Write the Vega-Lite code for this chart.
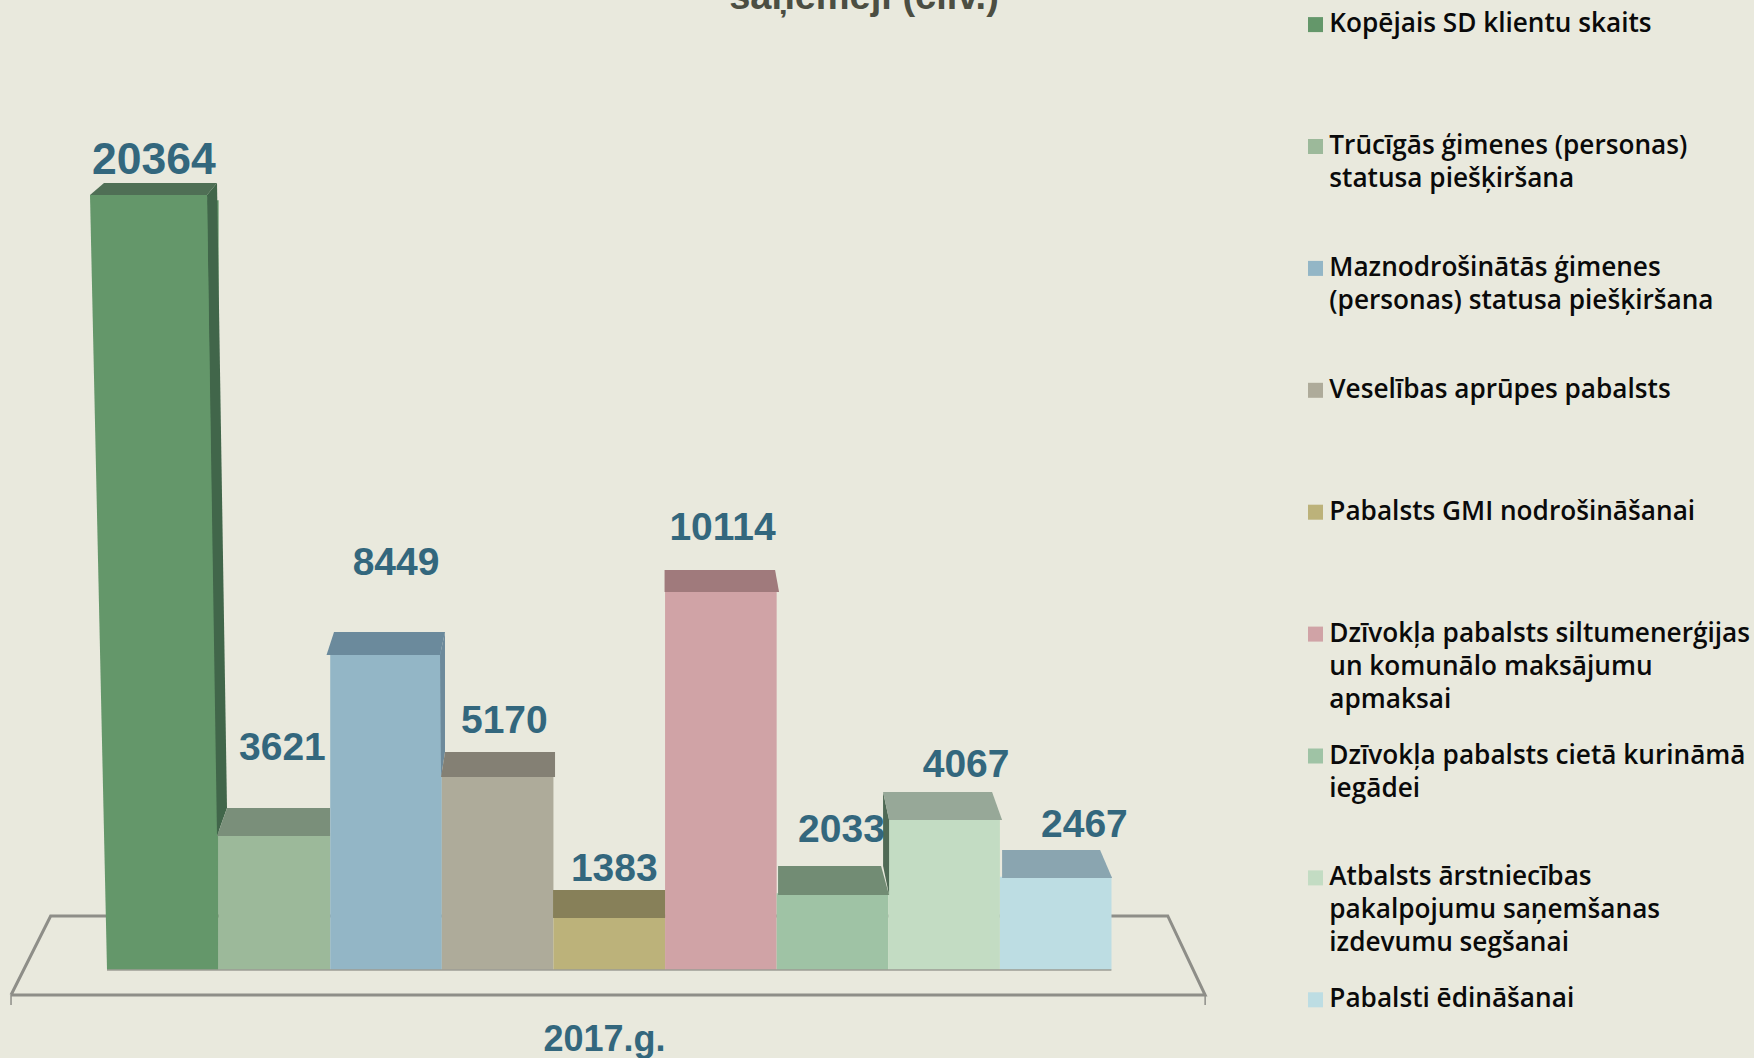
{
"$schema":"https://vega.github.io/schema/vega-lite/v6.json",
"width":1754,"height":1058,"padding":0,"autosize":{"type":"none"},
"background":"#e9e9dd",
"config":{"view":{"stroke":null}},
"title":{"text":"saņēmēji (cilv.)","anchor":"middle","frame":"group","offset":-9,"dx":-13,"dy":40,"baseline":"alphabetic","font":"Liberation Sans","fontWeight":"bold","fontSize":38,"color":"#4c4e42"},
"datasets":{
"bars":[
{"id":"a","category":"Kopējais SD klientu skaits","value":20364},
{"id":"b","category":"Trūcīgās ģimenes (personas) statusa piešķiršana","value":3621},
{"id":"c","category":"Maznodrošinātās ģimenes (personas) statusa piešķiršana","value":8449},
{"id":"d","category":"Veselības aprūpes pabalsts","value":5170},
{"id":"e","category":"Pabalsts GMI nodrošināšanai","value":1383},
{"id":"f","category":"Dzīvokļa pabalsts siltumenerģijas un komunālo maksājumu apmaksai","value":10114},
{"id":"g","category":"Dzīvokļa pabalsts cietā kurināmā iegādei","value":2033},
{"id":"h","category":"Atbalsts ārstniecības pakalpojumu saņemšanas izdevumu segšanai","value":4067},
{"id":"i","category":"Pabalsti ēdināšanai","value":2467}],
"floor":[{"step":0,"depth":-0.86,"level":-661},{"step":1,"depth":-0.505,"level":1429},{"step":2,"depth":9.505,"level":1429},{"step":3,"depth":9.84,"level":-661},{"step":4,"depth":-0.86,"level":-661}],
"ticks":[{"depth":-0.86,"level":-661,"level2":-926},{"depth":9.84,"level":-661,"level2":-926}],
"base":[{"step":0,"depth":0,"level":0},{"step":1,"depth":9,"level":0}]
},
"resolve":{"scale":{"x":"independent"}},
"layer":[
{"data":{"name":"floor"},
 "mark":{"type":"line","color":"#8e8e88","strokeWidth":3},
 "encoding":{
  "x":{"field":"depth","type":"quantitative","axis":null,"scale":{"domain":[-0.9588,14.7581],"nice":false,"zero":false}},
  "y":{"field":"level","type":"quantitative","axis":null,"scale":{"domain":[-2328,25661],"nice":false,"zero":false}},
  "order":{"field":"step"}}},
{"data":{"name":"ticks"},
 "mark":{"type":"rule","color":"#8e8e88","strokeWidth":1.5},
 "encoding":{
  "x":{"field":"depth","type":"quantitative","axis":null,"scale":{"domain":[-0.9588,14.7581],"nice":false,"zero":false}},
  "y":{"field":"level","type":"quantitative","axis":null,"scale":{"domain":[-2328,25661],"nice":false,"zero":false}},
  "y2":{"field":"level2"}}},
{"data":{"name":"bars"},
 "encoding":{
  "x":{"field":"category","type":"nominal","sort":null,
    "scale":{"range":[107,1111.5],"paddingInner":0,"paddingOuter":0},
    "axis":{"title":"2017.g.","domain":false,"ticks":false,"labels":false,"grid":false,"titleFont":"Liberation Sans","titleFontWeight":"bold","titleFontSize":36,"titleColor":"#33677d","titleX":604,"titleY":-8,"titleBaseline":"alphabetic","titleAlign":"center","titleAnchor":"start"}},
  "y":{"field":"value","type":"quantitative","axis":null,"scale":{"domain":[-2328,25661],"nice":false,"zero":false}}
 },
 "layer":[
  {"mark":{"type":"bar","stroke":null},
   "encoding":{"color":{"field":"category","type":"nominal",
     "scale":{"domain":["Kopējais SD klientu skaits","Trūcīgās ģimenes (personas) statusa piešķiršana","Maznodrošinātās ģimenes (personas) statusa piešķiršana","Veselības aprūpes pabalsts","Pabalsts GMI nodrošināšanai","Dzīvokļa pabalsts siltumenerģijas un komunālo maksājumu apmaksai","Dzīvokļa pabalsts cietā kurināmā iegādei","Atbalsts ārstniecības pakalpojumu saņemšanas izdevumu segšanai","Pabalsti ēdināšanai"],
       "range":["#64976a","#9cb99a","#93b6c6","#aeab9a","#bcb27a","#d0a3a6","#9fc3a5","#c3dcc3","#bddde3"]},
     "legend":{"orient":"none","legendX":1302.4,"legendY":-2,"title":null,"padding":0,"columns":1,"direction":"vertical","gridAlign":"all","rowPadding":15.9,"symbolType":"M-1,0.8H1V2.8H-1Z","symbolSize":225,"symbolStrokeWidth":0,"labelOffset":0.7,"labelLimit":500,"labelFont":"Open Sans","labelFontWeight":600,"labelFontSize":26.2,"labelColor":"#0a0a0a","labelBaseline":"top",
       "encoding":{"labels":{"lineHeight":{"value":33}}},
       "labelExpr":"{'Kopējais SD klientu skaits':['Kopējais SD klientu skaits'],'Trūcīgās ģimenes (personas) statusa piešķiršana':['Trūcīgās ģimenes (personas)','statusa piešķiršana'],'Maznodrošinātās ģimenes (personas) statusa piešķiršana':['Maznodrošinātās ģimenes','(personas) statusa piešķiršana'],'Veselības aprūpes pabalsts':['Veselības aprūpes pabalsts'],'Pabalsts GMI nodrošināšanai':['Pabalsts GMI nodrošināšanai'],'Dzīvokļa pabalsts siltumenerģijas un komunālo maksājumu apmaksai':['Dzīvokļa pabalsts siltumenerģijas','un komunālo maksājumu','apmaksai'],'Dzīvokļa pabalsts cietā kurināmā iegādei':['Dzīvokļa pabalsts cietā kurināmā','iegādei'],'Atbalsts ārstniecības pakalpojumu saņemšanas izdevumu segšanai':['Atbalsts ārstniecības','pakalpojumu saņemšanas','izdevumu segšanai'],'Pabalsti ēdināšanai':['Pabalsti ēdināšanai']}[datum.label]"}}}},
  {"transform":[{"filter":{"field":"value","equal":20364}}],"mark":{"type":"point","shape":"M44.2,-5.2L54.2,-17.2L64.2,607.8L54.2,635.8Z","size":4,"filled":true,"fill":"#41664a","opacity":1,"stroke":null}},
  {"transform":[{"filter":{"field":"value","equal":8449}}],"mark":{"type":"point","shape":"M54,4.4L59,-18.6L59,101.4L55,126.4Z","size":4,"filled":true,"fill":"#6d8a9b","opacity":1,"stroke":null}},
  {"transform":[{"filter":{"field":"value","equal":4067}}],"mark":{"type":"point","shape":"M-55,3.7L-61,-24.3L-61,49.7L-55,78.7Z","size":4,"filled":true,"fill":"#4f6a55","opacity":1,"stroke":null}},
  {"mark":{"type":"point","size":4,"filled":true,"opacity":1,"stroke":null},
   "encoding":{
    "shape":{"field":"id","type":"nominal","legend":null,"scale":{
      "domain":["a","b","c","d","e","f","g","h","i"],
      "range":["M-72.8,-5.2L-58.8,-17.2L54.2,-17.2L44.2,-5.2Z","M-57.4,2.9L-47.4,-25.1L55.6,-25.1L55.6,2.9Z","M-59.5,4.4L-52,-18.6L59,-18.6L54,4.4Z","M-56.6,2.4L-52.6,-22.6L57.4,-22.6L57.4,2.4Z","M-56.2,0.3L-56.2,-27.7L55.8,-27.7L55.8,0.3Z","M-56.3,4.3L-56.3,-17.7L54.2,-17.7L58.2,4.3Z","M-54.4,1.8L-54.4,-27.2L48.6,-27.2L56.6,1.8Z","M-55,3.7L-61,-24.3L48,-24.3L58,3.7Z","M-53.6,1.3L-53.6,-26.7L44.4,-26.7L56.4,1.3Z"]}},
    "fill":{"field":"id","type":"nominal","legend":null,"scale":{
      "domain":["a","b","c","d","e","f","g","h","i"],
      "range":["#4f6f55","#7a8f7a","#6b8a9c","#848074","#878059","#a07a7c","#728c74","#97a898","#8aa5b0"]}}}},
  {"transform":[{"filter":{"field":"value","equal":20364}}],"mark":{"type":"point","shape":"M-72.8,-5.2L44.2,-5.2L55.2,769.8L-55.8,769.8Z","size":4,"filled":true,"fill":"#64976a","opacity":1,"stroke":null}},
  {"transform":[{"filter":{"field":"value","equal":20364}}],"mark":{"type":"text","font":"Liberation Sans","fontWeight":"bold","fontSize":44.5,"color":"#33677d","align":"center","baseline":"alphabetic","dx":-9,"dy":-26},"encoding":{"text":{"field":"value"}}},
  {"transform":[{"filter":{"field":"value","equal":3621}}],"mark":{"type":"text","font":"Liberation Sans","fontWeight":"bold","fontSize":39,"color":"#33677d","align":"center","baseline":"alphabetic","dx":8,"dy":-73},"encoding":{"text":{"field":"value"}}},
  {"transform":[{"filter":{"field":"value","equal":8449}}],"mark":{"type":"text","font":"Liberation Sans","fontWeight":"bold","fontSize":39,"color":"#33677d","align":"center","baseline":"alphabetic","dx":10,"dy":-75.6},"encoding":{"text":{"field":"value"}}},
  {"transform":[{"filter":{"field":"value","equal":5170}}],"mark":{"type":"text","font":"Liberation Sans","fontWeight":"bold","fontSize":39,"color":"#33677d","align":"center","baseline":"alphabetic","dx":6.7,"dy":-41.6},"encoding":{"text":{"field":"value"}}},
  {"transform":[{"filter":{"field":"value","equal":1383}}],"mark":{"type":"text","font":"Liberation Sans","fontWeight":"bold","fontSize":39,"color":"#33677d","align":"center","baseline":"alphabetic","dx":5,"dy":-36.7},"encoding":{"text":{"field":"value"}}},
  {"transform":[{"filter":{"field":"value","equal":10114}}],"mark":{"type":"text","font":"Liberation Sans","fontWeight":"bold","fontSize":39,"color":"#33677d","align":"center","baseline":"alphabetic","dx":1.7,"dy":-47.7},"encoding":{"text":{"field":"value"}}},
  {"transform":[{"filter":{"field":"value","equal":2033}}],"mark":{"type":"text","font":"Liberation Sans","fontWeight":"bold","fontSize":39,"color":"#33677d","align":"center","baseline":"alphabetic","dx":9,"dy":-51.5},"encoding":{"text":{"field":"value"}}},
  {"transform":[{"filter":{"field":"value","equal":4067}}],"mark":{"type":"text","font":"Liberation Sans","fontWeight":"bold","fontSize":39,"color":"#33677d","align":"center","baseline":"alphabetic","dx":22,"dy":-39},"encoding":{"text":{"field":"value"}}},
  {"transform":[{"filter":{"field":"value","equal":2467}}],"mark":{"type":"text","font":"Liberation Sans","fontWeight":"bold","fontSize":39,"color":"#33677d","align":"center","baseline":"alphabetic","dx":28.7,"dy":-40},"encoding":{"text":{"field":"value"}}}
 ]},
{"data":{"name":"base"},
 "mark":{"type":"line","color":"#9c9c94","strokeWidth":1.5},
 "encoding":{
  "x":{"field":"depth","type":"quantitative","axis":null,"scale":{"domain":[-0.9588,14.7581],"nice":false,"zero":false}},
  "y":{"field":"level","type":"quantitative","axis":null,"scale":{"domain":[-2328,25661],"nice":false,"zero":false}},
  "order":{"field":"step"}}}
]
}
